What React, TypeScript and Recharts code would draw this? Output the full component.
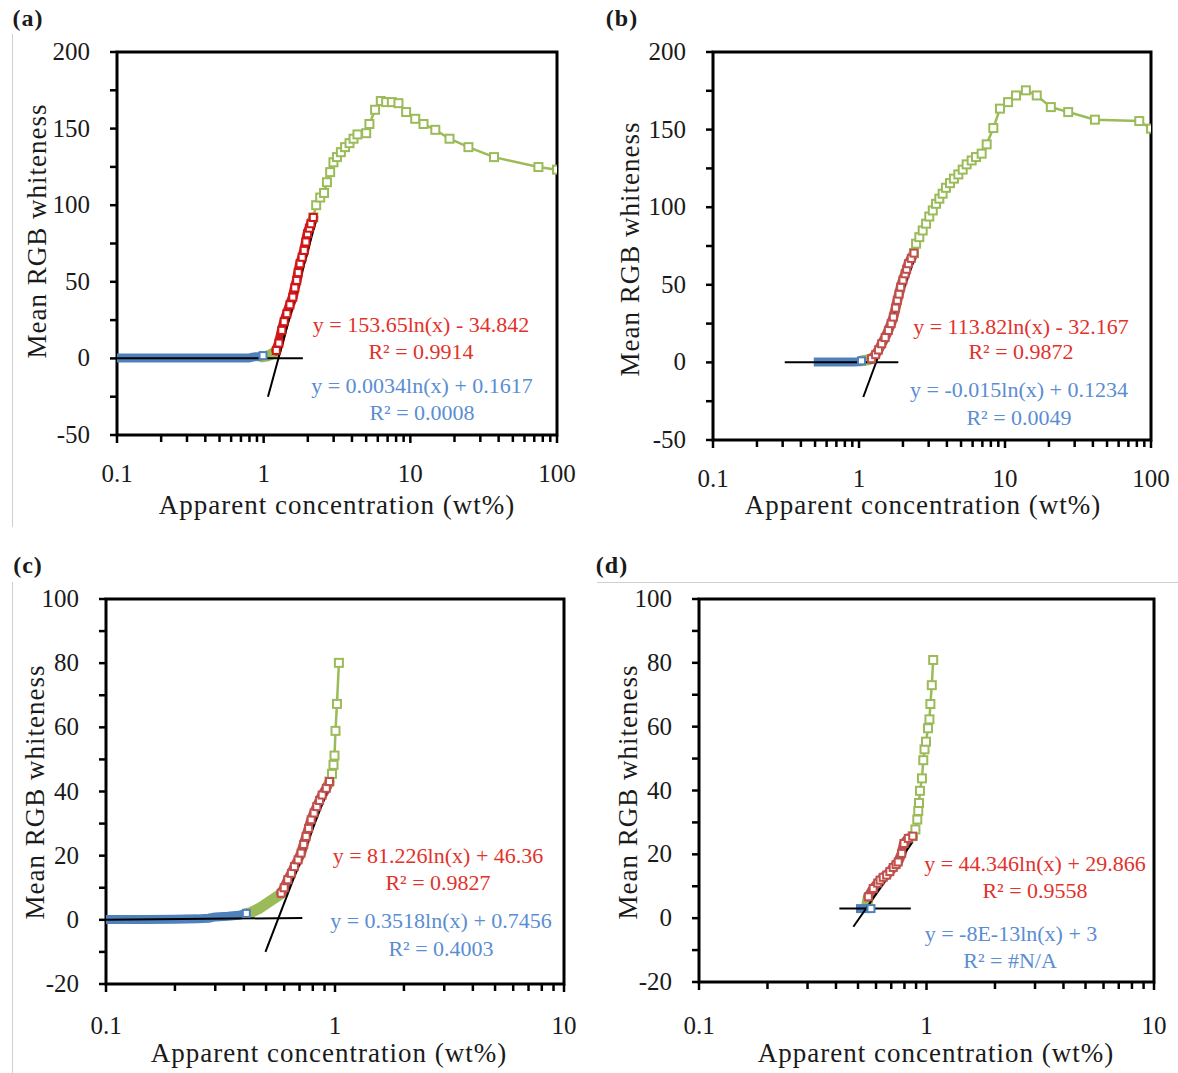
import React from "react";
import { ComposedChart, Line, XAxis, YAxis, ReferenceArea } from "recharts";

// ─── Data ────────────────────────────────────────────────────────────────────

type Pt = { x: number; y: number };

const aGreen: Pt[] = [
    { x: 2.18, y: 92 }, { x: 2.28, y: 100 }, { x: 2.43, y: 105 }, { x: 2.58, y: 108 },
    { x: 2.7, y: 115 }, { x: 2.84, y: 121.6 }, { x: 2.99, y: 128 }, { x: 3.16, y: 131.4 },
    { x: 3.36, y: 134.6 }, { x: 3.59, y: 137.9 }, { x: 3.85, y: 140.5 }, { x: 4.1, y: 143.4 },
    { x: 4.36, y: 146.2 }, { x: 5.0, y: 147 }, { x: 5.26, y: 153 }, { x: 5.75, y: 162.3 },
    { x: 6.29, y: 168 }, { x: 6.84, y: 167.3 }, { x: 7.48, y: 167.3 }, { x: 8.3, y: 166.6 },
    { x: 9.36, y: 160.8 }, { x: 10.8, y: 156.4 }, { x: 12.3, y: 153 }, { x: 14.8, y: 149.2 },
    { x: 18.5, y: 143.4 }, { x: 24.9, y: 137.9 }, { x: 37.2, y: 131.4 }, { x: 74.7, y: 124.9 },
    { x: 100, y: 123.2 },
];
const aGreenDense: Pt[] = [
    { x: 0.97, y: 1.0 }, { x: 1.05, y: 1.5 }, { x: 1.12, y: 2.5 }, { x: 1.18, y: 3.8 }, { x: 1.22, y: 5.2 },
];
const aRed: Pt[] = [
    { x: 1.22, y: 5.2 }, { x: 1.27, y: 10 }, { x: 1.33, y: 18.3 }, { x: 1.38, y: 24 },
    { x: 1.44, y: 29.2 }, { x: 1.51, y: 35 }, { x: 1.58, y: 40 }, { x: 1.63, y: 46 },
    { x: 1.68, y: 50.9 }, { x: 1.72, y: 56 }, { x: 1.77, y: 61.8 }, { x: 1.83, y: 66 },
    { x: 1.89, y: 70.5 }, { x: 1.94, y: 76 }, { x: 1.99, y: 81.4 }, { x: 2.05, y: 85 },
    { x: 2.1, y: 87.9 }, { x: 2.18, y: 92 },
];
const aBlue: Pt[] = [
    { x: 0.1, y: 0.2 }, { x: 0.2, y: 0.2 }, { x: 0.3, y: 0.2 }, { x: 0.45, y: 0.2 },
    { x: 0.6, y: 0.2 }, { x: 0.8, y: 0.3 }, { x: 0.86, y: 1.0 }, { x: 0.93, y: 1.3 }, { x: 0.99, y: 1.8 },
];
const aBlueFit: Pt[] = [{ x: 0.1, y: 0.16 }, { x: 1.85, y: 0.16 }];
const aRedFit: Pt[] = [{ x: 1.07, y: -25 }, { x: 2.32, y: 93 }];

const bGreen: Pt[] = [
    { x: 2.38, y: 70.4 }, { x: 2.46, y: 76.5 }, { x: 2.59, y: 80.7 }, { x: 2.73, y: 85 },
    { x: 2.88, y: 89.4 }, { x: 3.03, y: 94 }, { x: 3.2, y: 97.9 }, { x: 3.37, y: 102.2 },
    { x: 3.55, y: 105.5 }, { x: 3.74, y: 108.7 }, { x: 3.94, y: 112.5 }, { x: 4.2, y: 115.5 },
    { x: 4.47, y: 118.4 }, { x: 4.79, y: 121.1 }, { x: 5.13, y: 124.2 }, { x: 5.46, y: 127.6 },
    { x: 5.91, y: 130.1 }, { x: 6.33, y: 132.3 }, { x: 6.92, y: 134.5 }, { x: 7.49, y: 140.5 },
    { x: 8.32, y: 151 }, { x: 9.24, y: 163.5 }, { x: 10.5, y: 167.7 }, { x: 11.9, y: 172 },
    { x: 13.9, y: 175.3 }, { x: 16.5, y: 172 }, { x: 20.6, y: 164.5 }, { x: 27.1, y: 161.3 },
    { x: 41.3, y: 156.4 }, { x: 83.1, y: 155.5 }, { x: 100, y: 150.6 },
];
const bGreenDense: Pt[] = [
    { x: 1.04, y: 1.0 }, { x: 1.12, y: 1.5 }, { x: 1.18, y: 2.0 }, { x: 1.22, y: 2.4 },
];
const bRed: Pt[] = [
    { x: 1.22, y: 2.4 }, { x: 1.3, y: 5 }, { x: 1.36, y: 8 }, { x: 1.43, y: 12 },
    { x: 1.51, y: 16 }, { x: 1.59, y: 20.6 }, { x: 1.66, y: 25 }, { x: 1.72, y: 29.2 },
    { x: 1.78, y: 35 }, { x: 1.83, y: 40 }, { x: 1.88, y: 44 }, { x: 1.93, y: 48.5 },
    { x: 2.0, y: 53 }, { x: 2.07, y: 57.1 }, { x: 2.12, y: 60 }, { x: 2.18, y: 63.6 },
    { x: 2.28, y: 67 }, { x: 2.38, y: 70.4 },
];
const bBlue: Pt[] = [
    { x: 0.49, y: 0.2 }, { x: 0.6, y: 0.2 }, { x: 0.75, y: 0.2 }, { x: 0.9, y: 0.2 },
    { x: 1.0, y: 0.4 }, { x: 1.04, y: 1.0 },
];
const bBlueFit: Pt[] = [{ x: 0.31, y: 0.12 }, { x: 1.86, y: 0.12 }];
const bRedFit: Pt[] = [{ x: 1.07, y: -22.3 }, { x: 2.42, y: 67.8 }];

const cGreen: Pt[] = [
    { x: 0.946, y: 43.1 }, { x: 0.97, y: 45.5 }, { x: 0.985, y: 48.3 }, { x: 0.995, y: 51.2 },
    { x: 1.005, y: 58.9 }, { x: 1.02, y: 67.3 }, { x: 1.04, y: 80.1 },
];
const cGreenDense: Pt[] = [
    { x: 0.41, y: 2.0 }, { x: 0.424, y: 2.1 }, { x: 0.468, y: 3.6 }, { x: 0.518, y: 5.7 },
    { x: 0.573, y: 7.8 }, { x: 0.582, y: 8.3 },
];
const cRed: Pt[] = [
    { x: 0.582, y: 8.3 }, { x: 0.6, y: 10 }, { x: 0.622, y: 12.5 }, { x: 0.645, y: 14.5 },
    { x: 0.665, y: 16.6 }, { x: 0.69, y: 18.7 }, { x: 0.711, y: 20.8 }, { x: 0.73, y: 23.5 },
    { x: 0.748, y: 26 }, { x: 0.767, y: 28.5 }, { x: 0.787, y: 31.2 }, { x: 0.81, y: 33.3 },
    { x: 0.833, y: 35.3 }, { x: 0.856, y: 37.2 }, { x: 0.879, y: 38.9 }, { x: 0.916, y: 41 },
    { x: 0.946, y: 43.1 },
];
const cBlue: Pt[] = [
    { x: 0.1, y: 0.1 }, { x: 0.15, y: 0.1 }, { x: 0.2, y: 0.2 }, { x: 0.25, y: 0.3 },
    { x: 0.28, y: 0.5 }, { x: 0.3, y: 0.9 }, { x: 0.34, y: 1.1 }, { x: 0.38, y: 1.4 }, { x: 0.41, y: 2.0 },
];
const cBlueFit: Pt[] = [{ x: 0.1, y: 0 }, { x: 0.72, y: 0.6 }];
const cRedFit: Pt[] = [{ x: 0.497, y: -10 }, { x: 0.953, y: 42.6 }];

const dGreen: Pt[] = [
    { x: 0.87, y: 25.7 }, { x: 0.894, y: 27.8 }, { x: 0.911, y: 30.9 }, { x: 0.92, y: 33.6 },
    { x: 0.927, y: 36.1 }, { x: 0.936, y: 39.9 }, { x: 0.955, y: 43.8 }, { x: 0.968, y: 49.5 },
    { x: 0.98, y: 52.9 }, { x: 0.995, y: 55.3 }, { x: 1.015, y: 59.5 }, { x: 1.03, y: 62.3 },
    { x: 1.04, y: 67.1 }, { x: 1.055, y: 73 }, { x: 1.07, y: 80.9 },
];
const dGreenDense: Pt[] = [{ x: 0.545, y: 3.5 }, { x: 0.555, y: 6.7 }];
const dRed: Pt[] = [
    { x: 0.555, y: 6.7 }, { x: 0.583, y: 9.3 }, { x: 0.61, y: 11 }, { x: 0.625, y: 11.9 },
    { x: 0.645, y: 12.8 }, { x: 0.668, y: 13.5 }, { x: 0.69, y: 14.6 }, { x: 0.714, y: 15.9 },
    { x: 0.735, y: 16.8 }, { x: 0.751, y: 17.6 }, { x: 0.778, y: 20.3 }, { x: 0.796, y: 23.4 },
    { x: 0.832, y: 25 }, { x: 0.87, y: 25.7 },
];
const dBlue: Pt[] = [{ x: 0.49, y: 3 }, { x: 0.52, y: 3 }, { x: 0.55, y: 3 }, { x: 0.57, y: 3 }];
const dBlueFit: Pt[] = [{ x: 0.414, y: 3 }, { x: 0.853, y: 3 }];
const dRedFit: Pt[] = [{ x: 0.477, y: -2.7 }, { x: 0.869, y: 23.9 }];

// ─── Axis ticks ──────────────────────────────────────────────────────────────

const xTicks100 = [0.1, 0.2, 0.3, 0.4, 0.5, 0.6, 0.7, 0.8, 0.9, 1, 2, 3, 4, 5, 6, 7, 8, 9, 10,
    20, 30, 40, 50, 60, 70, 80, 90, 100];
const xTicks10 = [0.1, 0.2, 0.3, 0.4, 0.5, 0.6, 0.7, 0.8, 0.9, 1, 2, 3, 4, 5, 6, 7, 8, 9, 10];
const xMajors = [0.1, 1, 10, 100];
const yTicks200 = [-50, -25, 0, 25, 50, 75, 100, 125, 150, 175, 200];
const yTicks100 = [-20, -10, 0, 10, 20, 30, 40, 50, 60, 70, 80, 90, 100];

// ─── Styles ──────────────────────────────────────────────────────────────────

const GREEN = "#9BBB59";
const BLUE = "#4F81BD";
const RED_TXT = "#E2322B";
const BLUE_TXT = "#5A8DD2";
const SERIF = "'Liberation Serif', 'Times New Roman', serif";

// ─── Ticks ───────────────────────────────────────────────────────────────────

function XTick(props: any) {
    const { x, y, payload, dy } = props;
    const v = payload.value;
    const major = xMajors.includes(v);
    return (
        <g>
            <line x1={x} y1={y} x2={x} y2={y + (major ? 8 : 7)} stroke="#000" strokeWidth={2.5} />
            {major && (
                <text x={x} y={y + dy} textAnchor="middle" fontFamily={SERIF} fontSize={25} fill="#1a1a1a">
                    {String(v)}
                </text>
            )}
        </g>
    );
}

function YTick(props: any) {
    const { x, y, payload, step } = props;
    const v = payload.value;
    const lab = v % step === 0;
    return (
        <g>
            <line x1={x} y1={y} x2={x - 7} y2={y} stroke="#000" strokeWidth={2.5} />
            {lab && (
                <text x={x - 27} y={y + 8} textAnchor="end" fontFamily={SERIF} fontSize={25} fill="#1a1a1a">
                    {String(v)}
                </text>
            )}
        </g>
    );
}

const square = (color: string, size: number, n: number, lastOnly = false) => (p: any) => {
    const { cx, cy, index } = p;
    if (lastOnly && index !== n - 1) return <g key={`e${index}`} />;
    return (
        <rect key={`s${index}`} x={cx - size / 2} y={cy - size / 2} width={size} height={size}
            fill="#fff" stroke={color} strokeWidth={2} />
    );
};

// ─── Panel ───────────────────────────────────────────────────────────────────

type Cfg = {
    left: number; top: number; width: number; height: number;
    mt: number; mr: number; yw: number; xh: number; xdy: number;
    xDomain: [number, number]; xTicks: number[];
    yDomain: [number, number]; yTicks: number[]; yStep: number;
    red: string;
    green: Pt[]; greenDense: Pt[]; redPts: Pt[]; blue: Pt[]; blueFit: Pt[]; redFit: Pt[];
};

function Panel({ c }: { c: Cfg }) {
    return (
        <div style={{ position: "absolute", left: c.left, top: c.top }}>
            <ComposedChart width={c.width} height={c.height}
                margin={{ top: c.mt, right: c.mr, left: 0, bottom: 0 }}>
                <XAxis type="number" dataKey="x" scale="log" domain={c.xDomain} ticks={c.xTicks}
                    allowDataOverflow interval={0} axisLine={false} tickLine={false}
                    tickSize={0} tickMargin={0} height={c.xh} tick={<XTick dy={c.xdy} />} />
                <YAxis type="number" dataKey="y" domain={c.yDomain} ticks={c.yTicks}
                    allowDataOverflow interval={0} axisLine={false} tickLine={false}
                    tickSize={0} tickMargin={0} width={c.yw} tick={<YTick step={c.yStep} />} />
                <ReferenceArea x1={c.xDomain[0]} x2={c.xDomain[1]} y1={c.yDomain[0]} y2={c.yDomain[1]}
                    fill="none" fillOpacity={0} stroke="#000" strokeWidth={3} ifOverflow="visible" />
                <Line data={c.green} dataKey="y" stroke={GREEN} strokeWidth={2.5}
                    dot={square(GREEN, 8, c.green.length)} activeDot={false} isAnimationActive={false} />
                <Line data={c.greenDense} dataKey="y" stroke={GREEN} strokeWidth={11} strokeLinejoin="round"
                    strokeLinecap="round" dot={false} activeDot={false} isAnimationActive={false} />
                <Line data={c.redPts} dataKey="y" stroke={c.red} strokeWidth={10} strokeLinejoin="round"
                    strokeLinecap="round" dot={square(c.red, 7, c.redPts.length)} activeDot={false}
                    isAnimationActive={false} />
                <Line data={c.blue} dataKey="y" stroke={BLUE} strokeWidth={9} strokeLinejoin="round"
                    dot={square(BLUE, 7, c.blue.length, true)} activeDot={false} isAnimationActive={false} />
                <Line data={c.blueFit} dataKey="y" stroke="#000" strokeWidth={2} dot={false}
                    activeDot={false} isAnimationActive={false} />
                <Line data={c.redFit} dataKey="y" stroke="#000" strokeWidth={2} dot={false}
                    activeDot={false} isAnimationActive={false} />
            </ComposedChart>
        </div>
    );
}

const panels: Cfg[] = [
    {
        left: 0, top: 0, width: 600, height: 530, mt: 52, mr: 43, yw: 117, xh: 95, xdy: 47,
        xDomain: [0.1, 100], xTicks: xTicks100, yDomain: [-50, 200], yTicks: yTicks200, yStep: 50,
        red: "#D01818", green: aGreen, greenDense: aGreenDense, redPts: aRed, blue: aBlue,
        blueFit: aBlueFit, redFit: aRedFit,
    },
    {
        left: 600, top: 0, width: 578, height: 530, mt: 52, mr: 27, yw: 113, xh: 90, xdy: 47,
        xDomain: [0.1, 100], xTicks: xTicks100, yDomain: [-50, 200], yTicks: yTicks200, yStep: 50,
        red: "#C0504D", green: bGreen, greenDense: bGreenDense, redPts: bRed, blue: bBlue,
        blueFit: bBlueFit, redFit: bRedFit,
    },
    {
        left: 0, top: 540, width: 600, height: 533, mt: 59, mr: 36, yw: 106, xh: 89, xdy: 50,
        xDomain: [0.1, 10], xTicks: xTicks10, yDomain: [-20, 100], yTicks: yTicks100, yStep: 20,
        red: "#C0504D", green: cGreen, greenDense: cGreenDense, redPts: cRed, blue: cBlue,
        blueFit: cBlueFit, redFit: cRedFit,
    },
    {
        left: 590, top: 540, width: 588, height: 533, mt: 59, mr: 24, yw: 109, xh: 91, xdy: 52,
        xDomain: [0.1, 10], xTicks: xTicks10, yDomain: [-20, 100], yTicks: yTicks100, yStep: 20,
        red: "#C0504D", green: dGreen, greenDense: dGreenDense, redPts: dRed, blue: dBlue,
        blueFit: dBlueFit, redFit: dRedFit,
    },
];

// ─── Text overlays ───────────────────────────────────────────────────────────

function T({ x, y, children, color = "#1a1a1a", size = 22, bold = false, rotate = false, ls = 0 }: {
    x: number; y: number; children: React.ReactNode; color?: string; size?: number;
    bold?: boolean; rotate?: boolean; ls?: number;
}) {
    return (
        <div style={{
            position: "absolute", left: x, top: y, whiteSpace: "nowrap",
            transform: `translate(-50%, -50%)${rotate ? " rotate(-90deg)" : ""}`,
            fontFamily: SERIF, fontSize: size, fontWeight: bold ? 700 : 400, color,
            letterSpacing: ls, lineHeight: 1,
        }}>
            {children}
        </div>
    );
}

const X_TITLE = "Apparent concentration (wt%)";
const Y_TITLE = "Mean RGB whiteness";

export default function App() {
    return (
        <div style={{ position: "absolute", left: 0, top: 0, width: 1178, height: 1073, background: "#fff" }}>
            <div style={{ position: "absolute", left: 12, top: 34, width: 1, height: 493, background: "#cfcfcf" }} />
            <div style={{ position: "absolute", left: 12, top: 582, width: 1, height: 491, background: "#cfcfcf" }} />
            <div style={{ position: "absolute", left: 597, top: 582, width: 581, height: 1, background: "#cfcfcf" }} />

            {panels.map((c, i) => <Panel key={i} c={c} />)}

            <T x={28} y={18} size={24} bold ls={1}>(a)</T>
            <T x={622} y={18} size={24} bold ls={1}>(b)</T>
            <T x={28} y={565} size={24} bold ls={1}>(c)</T>
            <T x={612} y={565} size={24} bold ls={1}>(d)</T>

            <T x={37} y={231} size={27} ls={1} rotate>{Y_TITLE}</T>
            <T x={630} y={249} size={27} ls={1} rotate>{Y_TITLE}</T>
            <T x={35} y={792} size={27} ls={1} rotate>{Y_TITLE}</T>
            <T x={628} y={792} size={27} ls={1} rotate>{Y_TITLE}</T>

            <T x={337} y={505} size={27} ls={1}>{X_TITLE}</T>
            <T x={923} y={505} size={27} ls={1}>{X_TITLE}</T>
            <T x={329} y={1053} size={27} ls={1}>{X_TITLE}</T>
            <T x={936} y={1053} size={27} ls={1}>{X_TITLE}</T>

            <T x={421} y={325} color={RED_TXT}>y = 153.65ln(x) - 34.842</T>
            <T x={421} y={352} color={RED_TXT}>R² = 0.9914</T>
            <T x={422} y={386} color={BLUE_TXT}>y = 0.0034ln(x) + 0.1617</T>
            <T x={422} y={413} color={BLUE_TXT}>R² = 0.0008</T>

            <T x={1021} y={327} color={RED_TXT}>y = 113.82ln(x) - 32.167</T>
            <T x={1021} y={352} color={RED_TXT}>R² = 0.9872</T>
            <T x={1019} y={390} color={BLUE_TXT}>y = -0.015ln(x) + 0.1234</T>
            <T x={1019} y={418} color={BLUE_TXT}>R² = 0.0049</T>

            <T x={438} y={856} color={RED_TXT}>y = 81.226ln(x) + 46.36</T>
            <T x={438} y={883} color={RED_TXT}>R² = 0.9827</T>
            <T x={441} y={921} color={BLUE_TXT}>y = 0.3518ln(x) + 0.7456</T>
            <T x={441} y={949} color={BLUE_TXT}>R² = 0.4003</T>

            <T x={1035} y={864} color={RED_TXT}>y = 44.346ln(x) + 29.866</T>
            <T x={1035} y={891} color={RED_TXT}>R² = 0.9558</T>
            <T x={1011} y={934} color={BLUE_TXT}>y = -8E-13ln(x) + 3</T>
            <T x={1010} y={961} color={BLUE_TXT}>R² = #N/A</T>
        </div>
    );
}
